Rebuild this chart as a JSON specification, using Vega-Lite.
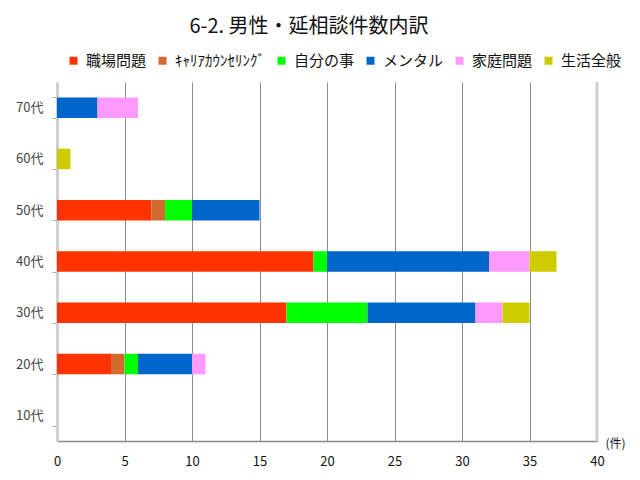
{
  "$schema": "https://vega.github.io/schema/vega-lite/v6.json",
  "width": 540,
  "height": 359,
  "autosize": "none",
  "padding": {"left": 57, "top": 82, "right": 43, "bottom": 39},
  "background": "white",
  "config": {
    "font": "Noto Sans CJK JP",
    "view": {"stroke": null}
  },
  "title": {
    "text": "6-2.  男性・延相談件数内訳",
    "fontSize": 20,
    "fontWeight": "normal",
    "color": "#111111",
    "anchor": "middle",
    "dx": -18,
    "offset": 16
  },
  "datasets": {
    "cats": [
      {"cat": "職場問題", "rank": 1},
      {"cat": "ｷｬﾘｱｶｳﾝｾﾘﾝｸﾞ", "rank": 2},
      {"cat": "自分の事", "rank": 3},
      {"cat": "メンタル", "rank": 4},
      {"cat": "家庭問題", "rank": 5},
      {"cat": "生活全般", "rank": 6}
    ]
  },
  "data": {
    "values": [
      {"age": "70代", "cat": "メンタル", "n": 3},
      {"age": "70代", "cat": "家庭問題", "n": 3},
      {"age": "60代", "cat": "生活全般", "n": 1},
      {"age": "50代", "cat": "職場問題", "n": 7},
      {"age": "50代", "cat": "ｷｬﾘｱｶｳﾝｾﾘﾝｸﾞ", "n": 1},
      {"age": "50代", "cat": "自分の事", "n": 2},
      {"age": "50代", "cat": "メンタル", "n": 5},
      {"age": "40代", "cat": "職場問題", "n": 19},
      {"age": "40代", "cat": "自分の事", "n": 1},
      {"age": "40代", "cat": "メンタル", "n": 12},
      {"age": "40代", "cat": "家庭問題", "n": 3},
      {"age": "40代", "cat": "生活全般", "n": 2},
      {"age": "30代", "cat": "職場問題", "n": 17},
      {"age": "30代", "cat": "自分の事", "n": 6},
      {"age": "30代", "cat": "メンタル", "n": 8},
      {"age": "30代", "cat": "家庭問題", "n": 2},
      {"age": "30代", "cat": "生活全般", "n": 2},
      {"age": "20代", "cat": "職場問題", "n": 4},
      {"age": "20代", "cat": "ｷｬﾘｱｶｳﾝｾﾘﾝｸﾞ", "n": 1},
      {"age": "20代", "cat": "自分の事", "n": 1},
      {"age": "20代", "cat": "メンタル", "n": 4},
      {"age": "20代", "cat": "家庭問題", "n": 1}
    ]
  },
  "layer": [
    {
      "transform": [
        {"lookup": "cat", "from": {"data": {"name": "cats"}, "key": "cat", "fields": ["rank"]}}
      ],
      "mark": {"type": "bar"},
      "encoding": {
        "y": {
          "field": "age",
          "type": "nominal",
          "scale": {
            "domain": ["70代", "60代", "50代", "40代", "30代", "20代", "10代"],
            "paddingInner": 0.6,
            "paddingOuter": 0.3
          },
          "axis": {
            "title": null,
            "tickBand": "extent",
            "tickSize": 5,
            "tickColor": "#aaaaaa",
            "domainColor": "#d0d0d0",
            "domainWidth": 3,
            "labelPadding": 9,
            "labelFontSize": 13,
            "labelColor": "#444444",
            "grid": false
          }
        },
        "x": {
          "field": "n",
          "type": "quantitative",
          "stack": "zero",
          "scale": {"domain": [0, 40], "nice": false},
          "axis": {
            "values": [0, 5, 10, 15, 20, 25, 30, 35, 40],
            "title": "(件)",
            "titleFontSize": 12,
            "titleFontWeight": "normal",
            "titleColor": "#111111",
            "titleAnchor": "start",
            "titleAlign": "left",
            "titleBaseline": "middle",
            "titleX": 548,
            "titleY": 2,
            "grid": true,
            "gridColor": "#8c8c8c",
            "gridWidth": 1,
            "ticks": false,
            "labelFlush": false,
            "labelPadding": 14,
            "labelFontSize": 13,
            "labelColor": "#111111",
            "domainColor": "#8c8c8c",
            "domainWidth": 1.5
          }
        },
        "order": {"field": "rank", "type": "quantitative", "sort": "ascending"},
        "color": {
          "field": "cat",
          "type": "nominal",
          "scale": {
            "domain": ["職場問題", "ｷｬﾘｱｶｳﾝｾﾘﾝｸﾞ", "自分の事", "メンタル", "家庭問題", "生活全般"],
            "range": ["#ff3300", "#d2692e", "#00ff00", "#0066cc", "#ff99ff", "#cccc00"]
          },
          "legend": {
            "title": null,
            "orient": "none",
            "direction": "horizontal",
            "legendX": 9,
            "legendY": -29,
            "symbolType": "square",
            "symbolSize": 64,
            "symbolStrokeWidth": 0,
            "labelFontSize": 15,
            "labelColor": "#111111",
            "columnPadding": 8,
            "labelOffset": 5
          }
        }
      }
    },
    {
      "data": {"values": [{"v": 40}]},
      "mark": {"type": "rule", "color": "#d0d0d0", "strokeWidth": 3},
      "encoding": {"x": {"field": "v", "type": "quantitative"}}
    }
  ]
}
